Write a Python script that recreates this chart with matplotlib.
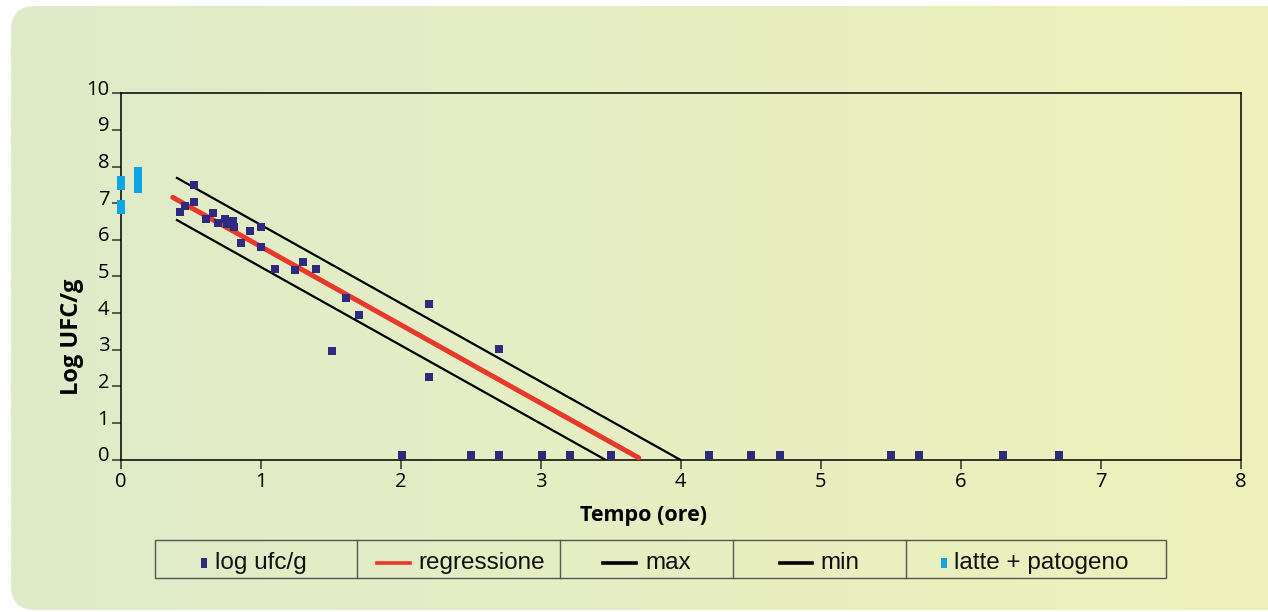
import matplotlib
matplotlib.use("Agg")
import matplotlib.pyplot as plt
import matplotlib.transforms as mtransforms
from matplotlib.patches import FancyBboxPatch, Rectangle
from matplotlib.lines import Line2D
import numpy as np

# dati
tempo = [0.42, 0.46, 0.52, 0.52, 0.61, 0.66, 0.69, 0.74, 0.76, 0.80, 0.81,
         0.86, 0.92, 1.00, 1.00, 1.10, 1.24, 1.30, 1.39, 1.61, 1.70, 1.51,
         2.20, 2.20, 2.70,
         2.01, 2.50, 2.70, 3.01, 3.21, 3.50, 4.20, 4.50, 4.71, 5.50, 5.70,
         6.30, 6.70]
log_ufc = [6.77, 6.93, 7.51, 7.04, 6.57, 6.74, 6.46, 6.58, 6.42, 6.52, 6.35,
           5.92, 6.25, 6.36, 5.80, 5.20, 5.19, 5.40, 5.20, 4.42, 3.96, 2.97,
           4.26, 2.27, 3.03,
           0.13, 0.13, 0.13, 0.13, 0.13, 0.13, 0.13, 0.13, 0.13, 0.13, 0.13,
           0.13, 0.13]

latte_x = [0.0, 0.0, 0.12, 0.12]
latte_y = [7.56, 6.90, 7.80, 7.48]

reg_x = [0.37, 3.70]
reg_y = [7.16, 0.05]
max_x = [0.40, 3.995]
max_y = [7.69, 0.0]
min_x = [0.40, 3.46]
min_y = [6.54, 0.0]

legend_labels = ["log ufc/g", "regressione", "max", "min", "latte + patogeno"]

blu = "#2d2a80"
rosso = "#e8392a"
ciano = "#0ea5e4"

W, H = 1268, 612
fig = plt.figure(figsize=(W / 100, H / 100), dpi=100, facecolor="white")

# sfondo arrotondato con sfumatura
bg = fig.add_axes([0, 0, 1, 1], zorder=0)
bg.set_xlim(0, W)
bg.set_ylim(H, 0)
bg.axis("off")
grad = np.linspace(0, 1, 256).reshape(1, -1)
c0 = np.array([0xdf, 0xeb, 0xc9]) / 255
c1 = np.array([0xee, 0xf1, 0xbb]) / 255
img = c0[None, None, :] * (1 - grad[..., None]) + c1[None, None, :] * grad[..., None]
box = FancyBboxPatch((11, 6), 1320, 604, boxstyle="round,pad=0,rounding_size=24",
                     facecolor="none", edgecolor="none", transform=bg.transData)
bg.add_patch(box)
im = bg.imshow(img, extent=(11, 1268, 610, 6), aspect="auto", interpolation="bilinear")
im.set_clip_path(box)

# grafico principale
ax_l, ax_r, ax_b, ax_t = 121, 1240.5, 459.7, 93.3
ax = fig.add_axes([ax_l / W, 1 - ax_b / H, (ax_r - ax_l) / W, (ax_b - ax_t) / H], zorder=1)
ax.set_facecolor("none")
ax.set_xlim(0, 8)
ax.set_ylim(0, 10)

ax.plot(max_x, max_y, color="black", lw=1.6, zorder=2)
ax.plot(min_x, min_y, color="black", lw=1.6, zorder=2)
ax.plot(reg_x, reg_y, color=rosso, lw=3.6, solid_capstyle="round", zorder=3)
ax.plot(tempo, log_ufc, linestyle="none", marker="s", ms=5.8, color=blu,
        markeredgewidth=0, zorder=4, clip_on=False)
rect = [(-0.3, -0.5), (0.3, -0.5), (0.3, 0.5), (-0.3, 0.5), (-0.3, -0.5)]
ax.plot(latte_x, latte_y, linestyle="none", marker=rect, ms=10.6, color=ciano,
        markeredgewidth=0, zorder=4, clip_on=False)

for s in ax.spines.values():
    s.set_linewidth(1.1)
    s.set_color("black")

ax.set_xticks(range(0, 9))
ax.set_yticks(range(0, 11))
ax.tick_params(axis="both", direction="out", length=6.5, width=1.1,
               color="#333333", labelsize=14.5, pad=2)
for lab in ax.get_xticklabels() + ax.get_yticklabels():
    lab.set_fontfamily("Open Sans")
off = mtransforms.ScaledTranslation(0, 0.06, fig.dpi_scale_trans)
for lab in ax.get_yticklabels():
    lab.set_transform(lab.get_transform() + off)

ax.set_xlabel("Tempo (ore)", fontfamily="Open Sans", fontweight="bold",
              fontsize=15.5)
ax.set_ylabel("Log UFC/g", fontfamily="Open Sans", fontweight="bold",
              fontsize=17)
ax.xaxis.set_label_coords((644 - ax_l) / (ax_r - ax_l), -(515 - ax_b) / (ax_b - ax_t))
ax.yaxis.set_label_coords(-(ax_l - 72) / (ax_r - ax_l), (ax_b - 337) / (ax_b - ax_t))
ax.xaxis.label.set_va("center")
ax.yaxis.label.set_va("center")

# legenda a celle
bg.add_patch(Rectangle((155, 540), 1011, 38, facecolor="none",
                       edgecolor="#555555", lw=1.0))
for xd in [357, 560, 733, 906]:
    bg.add_line(Line2D([xd, xd], [540, 578], color="#555555", lw=1.0))
yl = 563
bg.add_patch(Rectangle((201, yl - 5), 6, 10, facecolor=blu, edgecolor="none"))
bg.add_line(Line2D([377, 410], [yl, yl], color=rosso, lw=2.6))
bg.add_line(Line2D([603, 636], [yl, yl], color="black", lw=2.6))
bg.add_line(Line2D([780, 812], [yl, yl], color="black", lw=2.6))
bg.add_patch(Rectangle((941, yl - 5), 6, 10, facecolor=ciano, edgecolor="none"))
for xt, t in zip([215, 418, 645, 820, 954], legend_labels):
    bg.text(xt, yl, t, fontsize=17.5, fontfamily="Liberation Sans",
            va="center", ha="left", color="#111111")

fig.savefig("out.png", dpi=100, facecolor="white")
